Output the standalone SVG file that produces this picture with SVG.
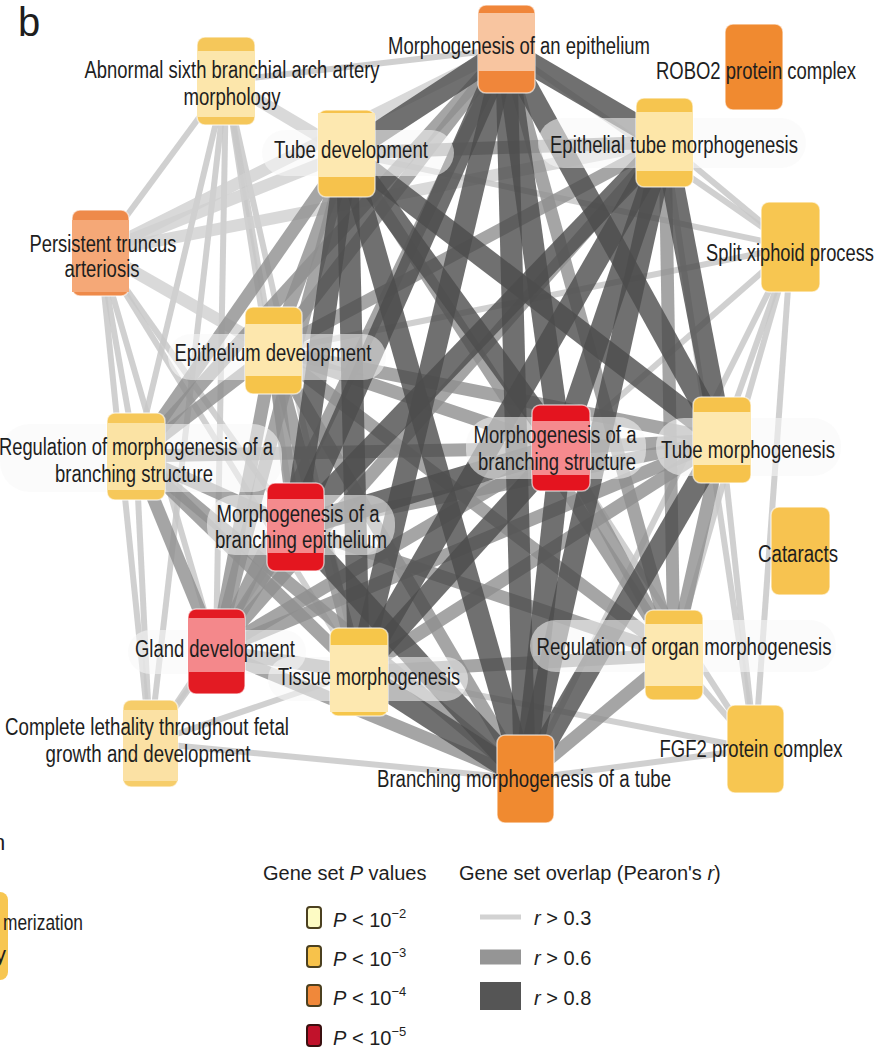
<svg xmlns="http://www.w3.org/2000/svg" width="893" height="1054" viewBox="0 0 893 1054">
<style>
.e1{stroke:#c8c8c8;stroke-width:6;stroke-opacity:.85}
.e1w{stroke:#cfcfcf;stroke-width:12;stroke-opacity:.8}
.e2{stroke:#8e8e8e;stroke-width:13;stroke-opacity:.8}
.e3{stroke:#4c4c4c;stroke-width:22;stroke-opacity:.8}
.pill{fill:#f7f7f7;fill-opacity:.55}
.box{stroke:#ffffff;stroke-opacity:.6;stroke-width:1.5}
text{font-family:"Liberation Sans",Arial,sans-serif;fill:#1e1e1e}
.lbl{font-size:23px;text-anchor:middle}
.leg{font-size:20px}
</style>
<rect width="893" height="1054" fill="#ffffff"/>
<text x="18" y="36" style="font-size:40px">b</text>

<g id="edges">
<line class="e1" x1="226" y1="81" x2="100" y2="252"/>
<line class="e1w" x1="226" y1="81" x2="347" y2="153"/>
<line class="e1" x1="226" y1="81" x2="273" y2="351"/>
<line class="e1" x1="226" y1="81" x2="136" y2="456"/>
<line class="e1" x1="226" y1="81" x2="216" y2="651"/>
<line class="e1" x1="226" y1="81" x2="295" y2="527"/>
<line class="e1" x1="226" y1="81" x2="150" y2="743"/>
<line class="e1" x1="226" y1="81" x2="506" y2="49"/>
<line class="e1" x1="226" y1="81" x2="359" y2="672"/>
<line class="e1w" x1="100" y1="252" x2="347" y2="153"/>
<line class="e1w" x1="100" y1="252" x2="273" y2="351"/>
<line class="e1" x1="100" y1="252" x2="136" y2="456"/>
<line class="e1" x1="100" y1="252" x2="216" y2="651"/>
<line class="e1" x1="100" y1="252" x2="150" y2="743"/>
<line class="e1w" x1="100" y1="252" x2="506" y2="49"/>
<line class="e1w" x1="100" y1="252" x2="665" y2="142"/>
<line class="e1" x1="100" y1="252" x2="295" y2="527"/>
<line class="e1" x1="100" y1="252" x2="359" y2="672"/>
<line class="e1" x1="150" y1="743" x2="136" y2="456"/>
<line class="e1" x1="150" y1="743" x2="216" y2="651"/>
<line class="e1" x1="150" y1="743" x2="359" y2="672"/>
<line class="e1" x1="150" y1="743" x2="525" y2="779"/>
<line class="e1" x1="150" y1="743" x2="295" y2="527"/>
<line class="e1" x1="791" y1="247" x2="665" y2="142"/>
<line class="e1" x1="791" y1="247" x2="722" y2="440"/>
<line class="e1" x1="791" y1="247" x2="561" y2="448"/>
<line class="e1" x1="791" y1="247" x2="674" y2="655"/>
<line class="e1" x1="791" y1="247" x2="525" y2="779"/>
<line class="e1" x1="791" y1="247" x2="347" y2="153"/>
<line class="e1" x1="791" y1="247" x2="755" y2="749"/>
<line class="e1" x1="791" y1="247" x2="506" y2="49"/>
<line class="e1" x1="791" y1="247" x2="273" y2="351"/>
<line class="e1" x1="755" y1="749" x2="722" y2="440"/>
<line class="e1" x1="755" y1="749" x2="674" y2="655"/>
<line class="e1" x1="755" y1="749" x2="525" y2="779"/>
<line class="e1" x1="755" y1="749" x2="561" y2="448"/>
<line class="e1" x1="755" y1="749" x2="665" y2="142"/>
<line class="e1" x1="755" y1="749" x2="359" y2="672"/>

<line class="e2" x1="506" y1="49" x2="273" y2="351"/>
<line class="e2" x1="347" y1="153" x2="665" y2="142"/>
<line class="e2" x1="347" y1="153" x2="273" y2="351"/>
<line class="e2" x1="665" y1="142" x2="273" y2="351"/>
<line class="e2" x1="273" y1="351" x2="561" y2="448"/>
<line class="e2" x1="273" y1="351" x2="722" y2="440"/>
<line class="e2" x1="273" y1="351" x2="525" y2="779"/>
<line class="e2" x1="273" y1="351" x2="359" y2="672"/>
<line class="e2" x1="273" y1="351" x2="295" y2="527"/>
<line class="e2" x1="722" y1="440" x2="359" y2="672"/>
<line class="e2" x1="722" y1="440" x2="295" y2="527"/>
<line class="e2" x1="722" y1="440" x2="561" y2="448"/>
<line class="e2" x1="674" y1="655" x2="347" y2="153"/>
<line class="e2" x1="674" y1="655" x2="506" y2="49"/>
<line class="e2" x1="674" y1="655" x2="561" y2="448"/>
<line class="e2" x1="674" y1="655" x2="722" y2="440"/>
<line class="e2" x1="674" y1="655" x2="525" y2="779"/>
<line class="e2" x1="674" y1="655" x2="359" y2="672"/>
<line class="e2" x1="674" y1="655" x2="665" y2="142"/>
<line class="e2" x1="674" y1="655" x2="295" y2="527"/>
<line class="e2" x1="674" y1="655" x2="273" y2="351"/>
<line class="e2" x1="216" y1="651" x2="347" y2="153"/>
<line class="e2" x1="216" y1="651" x2="506" y2="49"/>
<line class="e2" x1="216" y1="651" x2="295" y2="527"/>
<line class="e2" x1="216" y1="651" x2="359" y2="672"/>
<line class="e2" x1="216" y1="651" x2="525" y2="779"/>
<line class="e2" x1="216" y1="651" x2="273" y2="351"/>
<line class="e2" x1="216" y1="651" x2="561" y2="448"/>
<line class="e2" x1="216" y1="651" x2="665" y2="142"/>
<line class="e2" x1="216" y1="651" x2="722" y2="440"/>
<line class="e2" x1="136" y1="456" x2="347" y2="153"/>
<line class="e2" x1="136" y1="456" x2="506" y2="49"/>
<line class="e2" x1="136" y1="456" x2="561" y2="448"/>
<line class="e2" x1="136" y1="456" x2="273" y2="351"/>
<line class="e2" x1="136" y1="456" x2="295" y2="527"/>
<line class="e2" x1="136" y1="456" x2="216" y2="651"/>
<line class="e2" x1="136" y1="456" x2="359" y2="672"/>
<line class="e2" x1="136" y1="456" x2="525" y2="779"/>

<line class="e3" x1="506" y1="49" x2="347" y2="153"/>
<line class="e3" x1="506" y1="49" x2="665" y2="142"/>
<line class="e3" x1="506" y1="49" x2="722" y2="440"/>
<line class="e3" x1="506" y1="49" x2="525" y2="779"/>
<line class="e3" x1="506" y1="49" x2="561" y2="448"/>
<line class="e3" x1="506" y1="49" x2="359" y2="672"/>
<line class="e3" x1="506" y1="49" x2="295" y2="527"/>
<line class="e3" x1="347" y1="153" x2="722" y2="440"/>
<line class="e3" x1="347" y1="153" x2="525" y2="779"/>
<line class="e3" x1="347" y1="153" x2="561" y2="448"/>
<line class="e3" x1="347" y1="153" x2="359" y2="672"/>
<line class="e3" x1="347" y1="153" x2="295" y2="527"/>
<line class="e3" x1="665" y1="142" x2="525" y2="779"/>
<line class="e3" x1="665" y1="142" x2="722" y2="440"/>
<line class="e3" x1="665" y1="142" x2="561" y2="448"/>
<line class="e3" x1="665" y1="142" x2="359" y2="672"/>
<line class="e3" x1="665" y1="142" x2="295" y2="527"/>
<line class="e3" x1="561" y1="448" x2="525" y2="779"/>
<line class="e3" x1="561" y1="448" x2="359" y2="672"/>
<line class="e3" x1="561" y1="448" x2="295" y2="527"/>
<line class="e3" x1="295" y1="527" x2="525" y2="779"/>
<line class="e3" x1="359" y1="672" x2="525" y2="779"/>
<line class="e3" x1="722" y1="440" x2="525" y2="779"/>
</g>

<g id="node-abnormal-sixth">
<rect class="box" x="197" y="37" width="58" height="88" rx="8" fill="#f5c75a"/>
<rect x="197" y="51" width="58" height="66" fill="#fce6ab"/>
<text class="lbl" x="232" y="78" textLength="295" lengthAdjust="spacingAndGlyphs">Abnormal sixth branchial arch artery</text>
<text class="lbl" x="232" y="105" textLength="97" lengthAdjust="spacingAndGlyphs">morphology</text>
</g>

<g id="node-morph-epithelium">
<rect class="box" x="478" y="5" width="57" height="88" rx="8" fill="#f0863a"/>
<rect x="478" y="13" width="57" height="58" fill="#f8c5a0"/>
<text class="lbl" x="519" y="54" textLength="262" lengthAdjust="spacingAndGlyphs">Morphogenesis of an epithelium</text>
</g>

<g id="node-robo2">
<rect class="box" x="725" y="24" width="58" height="86" rx="8" fill="#f08a30"/>
<text class="lbl" x="756" y="79" textLength="200" lengthAdjust="spacingAndGlyphs">ROBO2 protein complex</text>
</g>

<g id="node-tube-development">
<rect class="pill" x="262" y="130" width="192" height="46" rx="23"/>
<rect class="box" x="318" y="110" width="57" height="87" rx="8" fill="#f6c24c"/>
<rect x="318" y="113" width="57" height="64" fill="#fde8b0"/>
<text class="lbl" x="351" y="158" textLength="154" lengthAdjust="spacingAndGlyphs">Tube development</text>
</g>

<g id="node-epithelial-tube">
<rect class="pill" x="538" y="118" width="268" height="50" rx="25"/>
<rect class="box" x="636" y="98" width="57" height="89" rx="8" fill="#f6c54f"/>
<rect x="636" y="112" width="57" height="59" fill="#fde6a8"/>
<text class="lbl" x="674" y="153" textLength="248" lengthAdjust="spacingAndGlyphs">Epithelial tube morphogenesis</text>
</g>

<g id="node-persistent-truncus">
<rect class="box" x="72" y="210" width="57" height="86" rx="8" fill="#ee8a4a"/>
<rect x="72" y="220" width="57" height="72" fill="#f5a877"/>
<text class="lbl" x="103" y="252" textLength="147" lengthAdjust="spacingAndGlyphs">Persistent truncus</text>
<text class="lbl" x="102" y="277" textLength="75" lengthAdjust="spacingAndGlyphs">arteriosis</text>
</g>

<g id="node-split-xiphoid">
<rect class="box" x="761" y="202" width="59" height="90" rx="8" fill="#f7c651"/>
<text class="lbl" x="790" y="261" textLength="168" lengthAdjust="spacingAndGlyphs">Split xiphoid process</text>
</g>

<g id="node-epithelium-development">
<rect class="pill" x="168" y="334" width="218" height="46" rx="23"/>
<rect class="box" x="245" y="307" width="57" height="87" rx="8" fill="#f6c44a"/>
<rect x="245" y="324" width="57" height="52" fill="#fde7ad"/>
<text class="lbl" x="273" y="361" textLength="197" lengthAdjust="spacingAndGlyphs">Epithelium development</text>
</g>

<g id="node-regulation-branching">
<rect class="pill" x="0" y="424" width="282" height="68" rx="30"/>
<rect class="box" x="107" y="413" width="58" height="87" rx="8" fill="#f6c85a"/>
<rect x="107" y="423" width="58" height="67" fill="#fbe3a4"/>
<text class="lbl" x="136" y="455" textLength="274" lengthAdjust="spacingAndGlyphs">Regulation of morphogenesis of a</text>
<text class="lbl" x="134" y="482" textLength="158" lengthAdjust="spacingAndGlyphs">branching structure</text>
</g>

<g id="node-morph-branching-structure">
<rect class="pill" x="466" y="417" width="180" height="62" rx="28"/>
<rect class="box" x="532" y="405" width="58" height="86" rx="8" fill="#e4141f"/>
<rect x="532" y="421" width="58" height="54" fill="#f58a8e"/>
<text class="lbl" x="555" y="443" textLength="163" lengthAdjust="spacingAndGlyphs">Morphogenesis of a</text>
<text class="lbl" x="557" y="470" textLength="158" lengthAdjust="spacingAndGlyphs">branching structure</text>
</g>

<g id="node-tube-morphogenesis">
<rect class="pill" x="656" y="418" width="185" height="58" rx="28"/>
<rect class="box" x="693" y="397" width="58" height="86" rx="8" fill="#f6c34c"/>
<rect x="693" y="412" width="58" height="53" fill="#fde8b0"/>
<text class="lbl" x="748" y="458" textLength="174" lengthAdjust="spacingAndGlyphs">Tube morphogenesis</text>
</g>

<g id="node-morph-branching-epithelium">
<rect class="pill" x="207" y="495" width="188" height="60" rx="28"/>
<rect class="box" x="267" y="483" width="57" height="88" rx="8" fill="#e4161f"/>
<rect x="267" y="499" width="57" height="54" fill="#f48a8d"/>
<text class="lbl" x="298" y="522" textLength="163" lengthAdjust="spacingAndGlyphs">Morphogenesis of a</text>
<text class="lbl" x="301" y="548" textLength="172" lengthAdjust="spacingAndGlyphs">branching epithelium</text>
</g>

<g id="node-cataracts">
<rect class="box" x="771" y="507" width="59" height="88" rx="8" fill="#f7c350"/>
<text class="lbl" x="798" y="562" textLength="80" lengthAdjust="spacingAndGlyphs">Cataracts</text>
</g>

<g id="node-gland-development">
<rect class="pill" x="128" y="630" width="178" height="44" rx="22"/>
<rect class="box" x="188" y="609" width="57" height="85" rx="8" fill="#e31b23"/>
<rect x="188" y="618" width="57" height="54" fill="#f4888b"/>
<text class="lbl" x="215" y="657" textLength="160" lengthAdjust="spacingAndGlyphs">Gland development</text>
</g>

<g id="node-tissue-morphogenesis">
<rect class="pill" x="268" y="657" width="200" height="44" rx="22"/>
<rect class="box" x="330" y="628" width="58" height="88" rx="8" fill="#f6c64a"/>
<rect x="330" y="645" width="58" height="67" fill="#fde8b0"/>
<text class="lbl" x="369" y="685" textLength="182" lengthAdjust="spacingAndGlyphs">Tissue morphogenesis</text>
</g>

<g id="node-regulation-organ">
<rect class="pill" x="530" y="620" width="306" height="52" rx="26"/>
<rect class="box" x="645" y="610" width="58" height="90" rx="8" fill="#f6c54f"/>
<rect x="645" y="624" width="58" height="62" fill="#fde8b0"/>
<text class="lbl" x="684" y="655" textLength="295" lengthAdjust="spacingAndGlyphs">Regulation of organ morphogenesis</text>
</g>

<g id="node-complete-lethality">
<rect class="box" x="123" y="700" width="55" height="87" rx="8" fill="#f6cd6a"/>
<rect x="123" y="710" width="55" height="71" fill="#fbe1a4"/>
<text class="lbl" x="147" y="735" textLength="284" lengthAdjust="spacingAndGlyphs">Complete lethality throughout fetal</text>
<text class="lbl" x="148" y="762" textLength="205" lengthAdjust="spacingAndGlyphs">growth and development</text>
</g>

<g id="node-branching-tube">
<rect class="box" x="497" y="735" width="57" height="88" rx="8" fill="#f08a30"/>
<text class="lbl" x="524" y="787" textLength="294" lengthAdjust="spacingAndGlyphs">Branching morphogenesis of a tube</text>
</g>

<g id="node-fgf2">
<rect class="box" x="727" y="705" width="57" height="88" rx="8" fill="#f7c651"/>
<text class="lbl" x="751" y="757" textLength="183" lengthAdjust="spacingAndGlyphs">FGF2 protein complex</text>
</g>

<g id="node-partial-left">
<rect x="-10" y="892" width="18" height="88" rx="8" fill="#f7c651"/>
<text x="-7" y="850" style="font-size:22px">n</text>
<text x="3" y="930" style="font-size:22px" textLength="80" lengthAdjust="spacingAndGlyphs">merization</text>
<text x="-5" y="962" style="font-size:22px">y</text>
</g>

<g id="legend">
<text class="leg" x="263" y="880">Gene set <tspan font-style="italic">P</tspan> values</text>
<text class="leg" x="459" y="880">Gene set overlap (Pearon's <tspan font-style="italic">r</tspan>)</text>
<rect x="307" y="907" width="14" height="21" rx="3" fill="#fdfbc4" stroke="#4b4020" stroke-width="2"/>
<rect x="307" y="946" width="14" height="21" rx="3" fill="#f7c24b" stroke="#4b4020" stroke-width="2"/>
<rect x="307" y="985" width="14" height="21" rx="3" fill="#f0883a" stroke="#4b4020" stroke-width="2"/>
<rect x="307" y="1025" width="14" height="21" rx="3" fill="#c1122b" stroke="#3a1010" stroke-width="2"/>
<text class="leg" x="333" y="927"><tspan font-style="italic">P</tspan> &lt; 10<tspan dy="-9" font-size="13">−2</tspan></text>
<text class="leg" x="333" y="966"><tspan font-style="italic">P</tspan> &lt; 10<tspan dy="-9" font-size="13">−3</tspan></text>
<text class="leg" x="333" y="1005"><tspan font-style="italic">P</tspan> &lt; 10<tspan dy="-9" font-size="13">−4</tspan></text>
<text class="leg" x="333" y="1045"><tspan font-style="italic">P</tspan> &lt; 10<tspan dy="-9" font-size="13">−5</tspan></text>
<line x1="480" y1="917" x2="521" y2="917" stroke="#d2d2d2" stroke-width="5"/>
<line x1="480" y1="957" x2="521" y2="957" stroke="#959595" stroke-width="15"/>
<line x1="480" y1="996" x2="521" y2="996" stroke="#555555" stroke-width="28"/>
<text class="leg" x="534" y="925"><tspan font-style="italic">r</tspan> &gt; 0.3</text>
<text class="leg" x="534" y="965"><tspan font-style="italic">r</tspan> &gt; 0.6</text>
<text class="leg" x="534" y="1005"><tspan font-style="italic">r</tspan> &gt; 0.8</text>
</g>
</svg>
